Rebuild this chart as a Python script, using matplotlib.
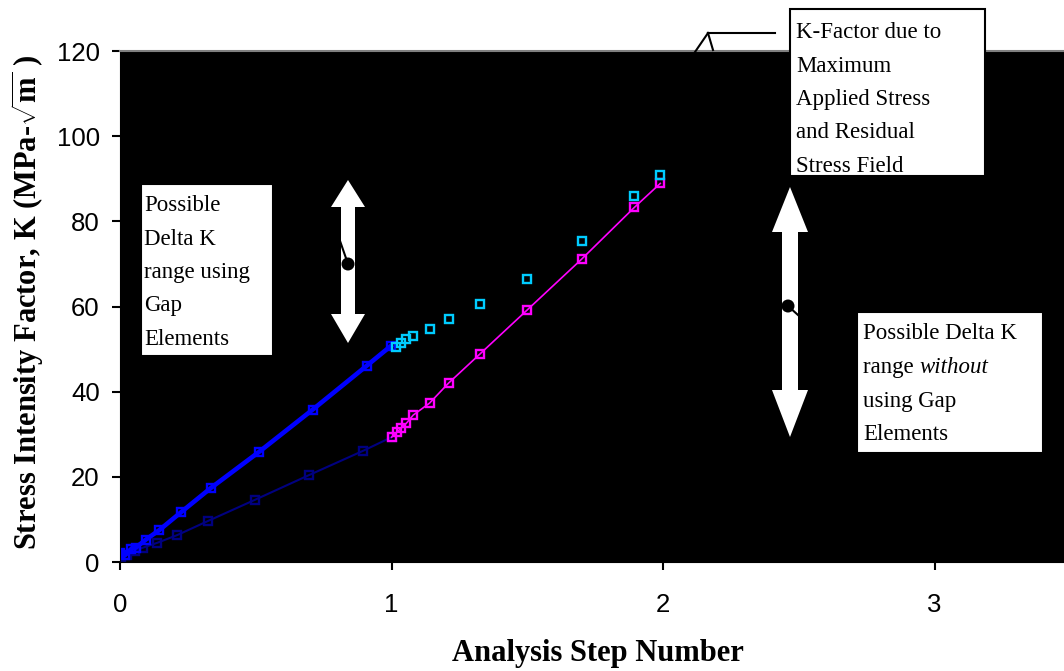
import matplotlib
matplotlib.use("Agg")
import matplotlib.pyplot as plt
from matplotlib.patches import Polygon, Rectangle, Ellipse
from matplotlib.lines import Line2D

# --- data -------------------------------------------------------------
# Loading with gap elements (thick blue)
gap_load_step = [0.0, 0.018, 0.04, 0.059, 0.094, 0.145, 0.225, 0.335, 0.513, 0.71, 0.909, 0.997]
gap_load_k = [2.0, 1.6, 3.0, 3.4, 5.2, 7.5, 11.7, 17.4, 25.9, 35.8, 46.1, 50.7]

# Loading without gap elements (navy)
nogap_load_step = [0.003, 0.025, 0.055, 0.086, 0.137, 0.21, 0.323, 0.497, 0.696, 0.895, 1.0]
nogap_load_k = [1.1, 1.6, 2.7, 3.4, 4.5, 6.3, 9.6, 14.6, 20.4, 26.1, 29.3]

# Residual stress step without gap elements (magenta)
nogap_resid_step = [1.0, 1.02, 1.035, 1.055, 1.08, 1.14, 1.21, 1.325, 1.5, 1.70, 1.895, 1.99]
nogap_resid_k = [29.3, 30.5, 31.4, 32.6, 34.5, 37.3, 42.0, 48.8, 59.2, 71.1, 83.3, 88.9]

# Residual stress step with gap elements (cyan, markers only)
gap_resid_step = [1.017, 1.035, 1.055, 1.08, 1.14, 1.21, 1.325, 1.5, 1.70, 1.895, 1.99]
gap_resid_k = [50.5, 51.4, 52.3, 53.1, 54.7, 57.0, 60.6, 66.4, 75.4, 85.9, 90.8]

x_ticks = [0, 1, 2, 3]
y_ticks = [0, 20, 40, 60, 80, 100, 120]

# --- figure -----------------------------------------------------------
W, H = 1064, 671
plt.rcParams["mathtext.fontset"] = "custom"
plt.rcParams["mathtext.rm"] = "Liberation Serif"
plt.rcParams["mathtext.bf"] = "Liberation Serif:bold"
fig = plt.figure(figsize=(W / 100, H / 100), dpi=100)


def fx(p):
    return p / W


def fy(p):
    return 1 - p / H


ax = fig.add_axes([fx(120), fy(562), fx(944), 511 / H])
ax.set_facecolor("black")
ax.set_xlim(0, 944 / 271.5)
ax.set_ylim(0, 120)

mk = dict(marker="s", markersize=6, markerfacecolor="none", markeredgewidth=1.7)
ax.plot(nogap_load_step, nogap_load_k, color="#000080", lw=1.5,
        markeredgecolor="#000080", **mk)
ax.plot(gap_load_step, gap_load_k, color="#0000FF", lw=3.3,
        markeredgecolor="#0000FF", **mk)
ax.plot(nogap_resid_step, nogap_resid_k, color="#FF00FF", lw=1.2,
        markeredgecolor="#FF00FF", **mk)
ax.plot(gap_resid_step, gap_resid_k, linestyle="none",
        markeredgecolor="#00CCFF", **mk)

ax.set_xticks(x_ticks)
ax.set_yticks(y_ticks)
ax.tick_params(axis="both", direction="out", length=6, width=1.5, color="black",
               labelsize=18.5)
ax.tick_params(axis="x", pad=16.5)
ax.tick_params(axis="y", pad=8.5)
for lab in ax.get_xticklabels() + ax.get_yticklabels():
    lab.set_fontfamily("Liberation Sans")

ax.spines["top"].set_color("#808080")
ax.spines["top"].set_linewidth(1.5)
ax.spines["right"].set_visible(False)
ax.spines["left"].set_color("black")
ax.spines["bottom"].set_color("black")

fig.text(fx(28), fy(302), r"Stress Intensity Factor, K (MPa-$\mathbf{\sqrt{m}}$ )",
         rotation=90, ha="center", va="center", fontsize=22,
         fontweight="bold", family="Liberation Serif")
fig.text(fx(598), fy(653), "Analysis Step Number", ha="center", va="center",
         fontsize=22, fontweight="bold", family="Liberation Serif")

# --- white double arrows ---------------------------------------------
def double_arrow(cx, tip_top, base_top, base_bot, tip_bot, head_half, shaft_half):
    pts = [(cx, tip_top), (cx + head_half, base_top), (cx + shaft_half, base_top),
           (cx + shaft_half, base_bot), (cx + head_half, base_bot), (cx, tip_bot),
           (cx - head_half, base_bot), (cx - shaft_half, base_bot),
           (cx - shaft_half, base_top), (cx - head_half, base_top)]
    fig.patches.append(Polygon([(fx(a), fy(b)) for a, b in pts], closed=True,
                               transform=fig.transFigure, facecolor="white",
                               edgecolor="none", zorder=3))


double_arrow(348, 180, 207, 314, 343, 17, 7)
double_arrow(790, 187, 232, 390, 437, 18, 8)


def pointer(dot, end):
    fig.lines.append(Line2D([fx(dot[0]), fx(end[0])], [fy(dot[1]), fy(end[1])],
                            transform=fig.transFigure, color="black", lw=1.5, zorder=4))
    fig.patches.append(Ellipse((fx(dot[0]), fy(dot[1])), 13 / W, 13 / H,
                               transform=fig.transFigure, facecolor="black",
                               edgecolor="none", zorder=4))


pointer((348, 264), (339, 238))
pointer((788, 306), (798, 315))

# --- callout from the K-factor box -------------------------------------
for seg in [((708, 33), (775, 33)), ((708, 33), (695, 52)), ((708, 33), (713, 50))]:
    (x0, y0), (x1, y1) = seg
    fig.lines.append(Line2D([fx(x0), fx(x1)], [fy(y0), fy(y1)], transform=fig.transFigure,
                            color="black", lw=1.5, zorder=4))


# --- text boxes --------------------------------------------------------
def text_box(left, top, right, bottom, text_x, baselines, lines):
    fig.patches.append(Rectangle((fx(left), fy(bottom)), fx(right - left), (bottom - top) / H,
                                 transform=fig.transFigure, facecolor="white",
                                 edgecolor="black", lw=1.5, zorder=5))
    renderer = fig.canvas.get_renderer()
    for yb, parts in zip(baselines, lines):
        x = text_x
        for s, style in parts:
            t = fig.text(fx(x), fy(yb), s, ha="left", va="baseline", fontsize=16.5,
                         family="Liberation Serif", style=style, zorder=6)
            x += t.get_window_extent(renderer=renderer).width


text_box(790, 9, 985, 176, 796, [38, 71.5, 105, 138.5, 172],
         [[("K-Factor due to", "normal")], [("Maximum", "normal")],
          [("Applied Stress", "normal")], [("and Residual", "normal")],
          [("Stress Field", "normal")]])

text_box(141, 184, 273, 356, 144, [211, 244.5, 278, 311.5, 345],
         [[("Possible", "normal")], [("Delta K", "normal")],
          [("range using", "normal")], [("Gap", "normal")],
          [("Elements", "normal")]])

text_box(857, 312, 1043, 453, 863, [339, 373, 406.5, 440],
         [[("Possible Delta K", "normal")],
          [("range ", "normal"), ("without", "italic")],
          [("using Gap", "normal")], [("Elements", "normal")]])

fig.savefig("out.png", dpi=100)
